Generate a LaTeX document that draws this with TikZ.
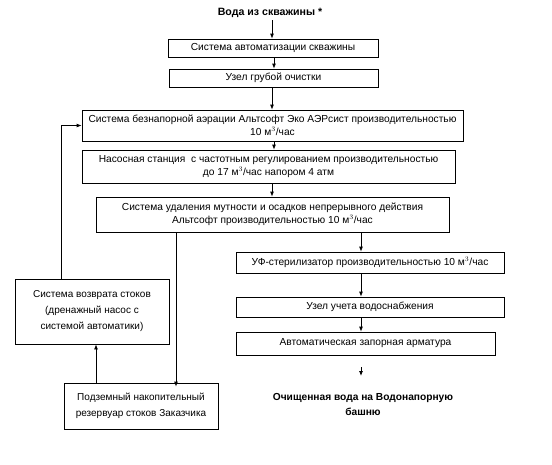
\documentclass[tikz,border=0pt]{standalone}
\usepackage{fontspec}
\setmainfont{Liberation Sans}
\usetikzlibrary{arrows.meta}
\begin{document}
\begin{tikzpicture}[x=1pt,y=-1pt,
  box/.style={draw,line width=0.8pt,inner sep=1pt,align=center,font=\fontsize{10.2}{12.7}\selectfont},
  lbox/.style={box,font=\fontsize{10}{16}\selectfont},
  arr/.style={-{Latex[length=5pt,width=4pt]},line width=0.8pt},
  lbl/.style={align=center,font=\fontsize{10.2}{15}\selectfont\bfseries}]
\useasboundingbox[fill=white] (0,0) rectangle (552,464);
\node[lbl,font=\fontsize{10.6}{15}\selectfont\bfseries] (t) at (270,12.7) {Вода из скважины *};
\node[box,minimum width=210pt,minimum height=18pt] (b1) at (273,48) {Система автоматизации скважины};
\node[box,minimum width=209pt,minimum height=18pt] (b2) at (273.5,78) {Узел грубой очистки};
\node[box,minimum width=381pt,minimum height=31pt] (b3) at (272.5,125.5) {Система безнапорной аэрации Альтсофт Эко АЭРсист производительностью\\10 м$^3$/час};
\node[box,minimum width=373pt,minimum height=33pt] (b4) at (268.5,166.5) {Насосная станция\ \ с частотным регулированием производительностью\\до 17 м$^3$/час напором 4 атм};
\node[box,minimum width=353pt,minimum height=35pt] (b5) at (272.5,214.5) {Система удаления мутности и осадков непрерывного действия\\Альтсофт производительностью 10 м$^3$/час};
\node[lbox,minimum width=154pt,minimum height=65pt] (b6) at (92,311.5) {Система возврата стоков\\(дренажный насос с\\системой автоматики)};
\node[lbox,minimum width=154pt,minimum height=46pt] (b7) at (141,406) {Подземный накопительный\\резервуар стоков Заказчика};
\node[box,minimum width=268pt,minimum height=21pt] (uf) at (370,262.5) {УФ-стерилизатор производительностью 10 м$^3$/час};
\node[box,minimum width=268pt,minimum height=20pt] (uz) at (370,307) {Узел учета водоснабжения};
\node[box,minimum width=259pt,minimum height=23pt] (au) at (365.5,343.5) {Автоматическая запорная арматура};
\node[lbl] (fin) at (363,404.5) {Очищенная вода на Водонапорную\\башню};
\coordinate (xa) at (272,0);
\coordinate (xb) at (274,0);
\coordinate (xr) at (361,0);
\coordinate (xl) at (61,0);
\coordinate (xd) at (176,0);
\coordinate (xu) at (96,0);
\coordinate (f1) at (361,367);
\coordinate (f2) at (361,376);
\draw[arr] (xa |- 0,20) -- (b1.north -| xa);
\draw[arr] (b1.south -| xb) -- (b2.north -| xb);
\draw[arr] (b2.south -| xa) -- (b3.north -| xa);
\draw[arr] (b3.south -| xb) -- (b4.north -| xb);
\draw[arr] (b4.south -| xa) -- (b5.north -| xa);
\draw[arr] (b5.south -| xr) -- (uf.north -| xr);
\draw[arr] (uf.south -| xr) -- (uz.north -| xr);
\draw[arr] (uz.south -| xr) -- (au.north -| xr);
\draw[arr] (f1) -- (f2);
\draw[arr] (b5.south -| xd) -- ([yshift=-4pt]b7.north -| xd);
\draw[arr] (b7.north -| xu) -- (b6.south -| xu);
\draw[arr] (b6.north -| xl) -- (xl |- b3.west) -- (b3.west);
\end{tikzpicture}
\end{document}
